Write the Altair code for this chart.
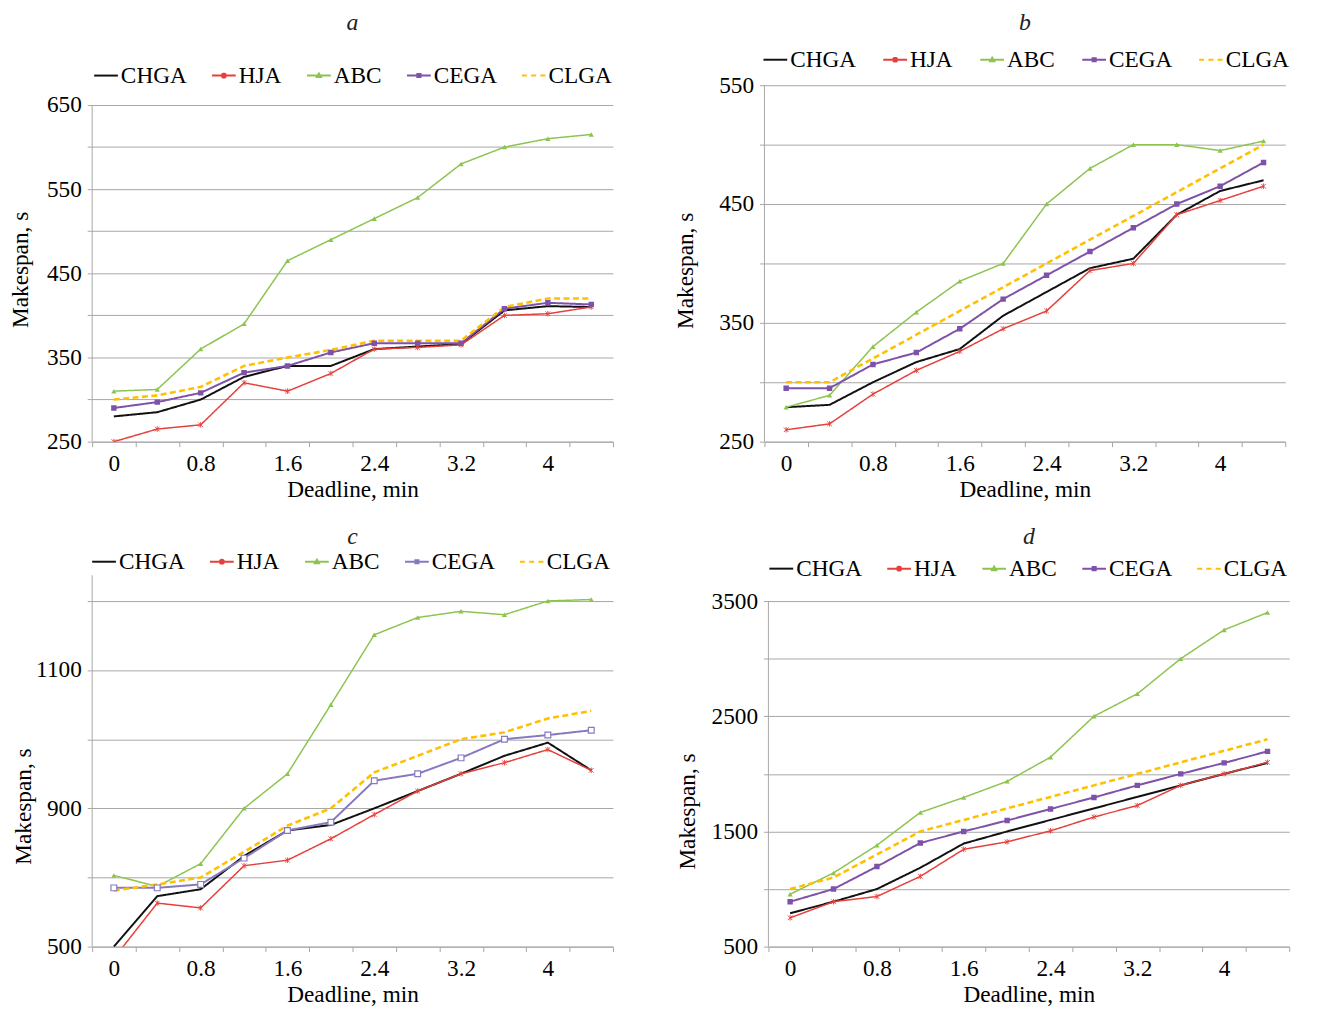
import altair as alt
import pandas as pd

# ---------------- data ----------------
X_VALUES = [0, 0.4, 0.8, 1.2, 1.6, 2.0, 2.4, 2.8, 3.2, 3.6, 4.0, 4.4]
X_LABELED = [0, 0.8, 1.6, 2.4, 3.2, 4.0]
X_TICK_LABELS = ["0", "0.8", "1.6", "2.4", "3.2", "4"]
SERIES = ["CHGA", "HJA", "ABC", "CEGA", "CLGA"]

# panel a
A_CHGA = [280, 285, 300, 327, 340, 340, 360, 363, 366, 406, 411, 410]
A_HJA = [250, 265, 270, 320, 310, 331, 360, 362, 365, 400, 402, 410]
A_ABC = [310, 312, 360, 390, 465, 490, 515, 540, 580, 600, 610, 615]
A_CEGA = [290, 297, 308, 332, 340, 356, 367, 367, 367, 408, 415, 413]
A_CLGA = [300, 305, 315, 340, 350, 359, 370, 370, 370, 410, 420, 420]
A_Y_GRID = [250, 300, 350, 400, 450, 500, 550, 600, 650]
A_Y_LABEL_AT = [250, 350, 450, 550, 650]
A_Y_LABELS = ["250", "350", "450", "550", "650"]

# panel b
B_CHGA = [279, 281, 300, 317, 328, 356, 376, 396, 404, 441, 461, 470]
B_HJA = [260, 265, 290, 310, 326, 345, 360, 394, 400, 441, 453, 465]
B_ABC = [279, 289, 330, 359, 385, 400, 450, 480, 500, 500, 495, 503]
B_CEGA = [295, 295, 315, 325, 345, 370, 390, 410, 430, 450, 465, 485]
B_CLGA = [300, 300, 320, 340, 360, 380, 400, 420, 440, 460, 480, 500]
B_Y_GRID = [250, 300, 350, 400, 450, 500, 550]
B_Y_LABEL_AT = [250, 350, 450, 550]
B_Y_LABELS = ["250", "350", "450", "550"]

# panel c (gridlines every 100; the bottom gridline is labelled "500" in the source)
C_CHGA = [700, 773, 783, 831, 868, 876, 900, 925, 950, 976, 995, 955]
C_HJA = [683, 763, 756, 817, 825, 856, 891, 925, 950, 966, 985, 955]
C_ABC = [803, 787, 820, 900, 950, 1050, 1151, 1176, 1185, 1180, 1200, 1202]
C_CEGA = [785, 785, 790, 828, 868, 880, 940, 950, 973, 1000, 1006, 1013]
C_CLGA = [781, 790, 800, 837, 875, 900, 952, 976, 1000, 1010, 1030, 1041]
C_Y_GRID = [700, 800, 900, 1000, 1100, 1200]
C_Y_LABEL_AT = [700, 900, 1100]
C_Y_LABELS = ["500", "900", "1100"]

# panel d
D_CHGA = [790, 890, 1000, 1185, 1395, 1500, 1600, 1700, 1800, 1900, 2000, 2095]
D_HJA = [750, 890, 935, 1110, 1345, 1410, 1505, 1625, 1725, 1900, 2000, 2100]
D_ABC = [955, 1140, 1380, 1665, 1795, 1935, 2145, 2500, 2695, 3000, 3250, 3400]
D_CEGA = [890, 1000, 1195, 1400, 1500, 1595, 1695, 1795, 1900, 2000, 2095, 2195]
D_CLGA = [1000, 1100, 1300, 1500, 1600, 1700, 1800, 1900, 2000, 2100, 2200, 2300]
D_Y_GRID = [500, 1000, 1500, 2000, 2500, 3000, 3500]
D_Y_LABEL_AT = [500, 1500, 2500, 3500]
D_Y_LABELS = ["500", "1500", "2500", "3500"]

# ---------------- style ----------------
FONT = "Liberation Serif"
FS = 23.5
GRAY = "#a6a6a6"
PLOT_W = 526
STEP = 0.4

LINE_COLOR = {"CHGA": "#111111", "HJA": "#e5403c", "ABC": "#8dc450",
              "CEGA": "#7e52a8", "CLGA": "#ffc000"}
LINE_WIDTH = {"CHGA": 2, "HJA": 1.5, "ABC": 1.5, "CEGA": 2, "CLGA": 2.6}
LINE_DASH = {"CHGA": [1, 0], "HJA": [1, 0], "ABC": [1, 0], "CEGA": [1, 0], "CLGA": [6, 3.5]}

ASTERISK = "M-1,-1L1,1M-1,1L1,-1M0,-1.2V1.2"
LEGEND_PATHS = {
    "CHGA": "M-1,0H1",
    "HJA": "M-1,0H1M-0.18,-0.18L0.18,0.18M-0.18,0.18L0.18,-0.18M0,-0.24V0.24",
    "ABC": "M-1,0H1M0,-0.17L0.17,0.13H-0.17Z",
    "CEGA": "M-1,0H1M-0.13,-0.13H0.13V0.13H-0.13Z",
    "CLGA": "M-1,0H-0.58M-0.22,0H0.2M0.56,0H0.98",
}


def lookup_expr(keys, texts, key_expr):
    k = "[" + ",".join(str(v) for v in keys) + "]"
    t = "[" + ",".join("'" + s + "'" for s in texts) + "]"
    return f"indexof({k}, {key_expr}) >= 0 ? {t}[indexof({k}, {key_expr})] : ''"


def panel(letter, vals, y_domain, y_grid, y_lab_at, y_labs, axis_top, height,
          legend_x, legend_y, legend_pad, title_offset, ytitle_y, ytitle_pad,
          cega_color, cega_hollow):
    rows = []
    for s, arr in zip(SERIES, vals):
        for x, v in zip(X_VALUES, arr):
            rows.append({"x": x, "value": v, "series": s})
    df = pd.DataFrame(rows)
    base = alt.Chart(df)

    bounds = [round(x - STEP / 2, 1) for x in X_VALUES] + [round(X_VALUES[-1] + STEP / 2, 1)]
    x_keys = [int(round(v * 10)) for v in X_LABELED]
    xenc = alt.X(
        "x:Q",
        scale=alt.Scale(domain=[bounds[0], bounds[-1]], nice=False, zero=False),
        axis=alt.Axis(
            values=bounds,
            labelExpr=lookup_expr(x_keys, X_TICK_LABELS, "round((datum.value + 0.2) * 10)"),
            labelOffset=PLOT_W / len(X_VALUES) / 2,
            labelFlush=False, labelOverlap=False, labelPadding=5,
            grid=False, tickSize=5, title="Deadline, min", titlePadding=3,
        ),
    )
    yenc = alt.Y(
        "value:Q",
        scale=alt.Scale(domain=y_domain, nice=False, zero=False),
        axis=alt.Axis(
            values=y_grid,
            labelExpr=lookup_expr(y_lab_at, y_labs, "datum.value"),
            labelOverlap=False, labelFlush=False, labelPadding=6,
            grid=True, domain=False, tickSize=5,
            title="Makespan, s", titleY=ytitle_y, titlePadding=ytitle_pad,
        ),
    )

    layers = []
    # y axis line
    axis_df = pd.DataFrame({"lo": [y_grid[0]], "hi": [axis_top]})
    layers.append(
        alt.Chart(axis_df).mark_rule(color=GRAY, strokeWidth=1).encode(
            x=alt.value(0), y=alt.Y("lo:Q", scale=alt.Scale(domain=y_domain, nice=False, zero=False)),
            y2="hi:Q")
    )
    for s in SERIES:
        color = cega_color if s == "CEGA" else LINE_COLOR[s]
        layers.append(
            base.transform_filter(alt.datum.series == s)
            .mark_line(color=color, strokeWidth=LINE_WIDTH[s], strokeDash=LINE_DASH[s], clip=True)
            .encode(x=xenc, y=yenc)
        )
    # markers
    layers.append(
        base.transform_filter(alt.datum.series == "HJA")
        .mark_point(shape=ASTERISK, size=22, filled=False, stroke=LINE_COLOR["HJA"],
                    strokeWidth=0.9, opacity=1, clip=True)
        .encode(x=xenc, y=yenc)
    )
    layers.append(
        base.transform_filter(alt.datum.series == "ABC")
        .mark_point(shape="triangle-up", size=28, filled=True, color=LINE_COLOR["ABC"],
                    opacity=1, clip=True)
        .encode(x=xenc, y=yenc)
    )
    if cega_hollow:
        cega_mark = dict(shape="square", size=34, filled=False, fill="white",
                         stroke=cega_color, strokeWidth=1.2, opacity=1, clip=True)
    else:
        cega_mark = dict(shape="square", size=30, filled=True, color=cega_color,
                         opacity=1, clip=True)
    layers.append(
        base.transform_filter(alt.datum.series == "CEGA").mark_point(**cega_mark)
        .encode(x=xenc, y=yenc)
    )

    # legend
    leg_colors = [cega_color if s == "CEGA" else LINE_COLOR[s] for s in SERIES]
    leg_props = dict(
        orient="none", legendX=legend_x, legendY=legend_y, direction="horizontal",
        columns=5, title=None, labelFont=FONT, labelFontSize=FS, labelColor="black",
        symbolSize=576, symbolStrokeWidth=2, columnPadding=legend_pad, labelOffset=2,
        symbolOpacity=1, padding=0, labelLimit=0,
    )
    layers.append(
        base.transform_filter("false")
        .mark_point(filled=False, opacity=1, strokeWidth=2)
        .encode(
            color=alt.Color("series:N", scale=alt.Scale(domain=SERIES, range=leg_colors),
                            legend=alt.Legend(**leg_props)),
            shape=alt.Shape("series:N",
                            scale=alt.Scale(domain=SERIES, range=[LEGEND_PATHS[s] for s in SERIES]),
                            legend=alt.Legend(**leg_props)),
        )
    )

    return alt.layer(*layers).properties(
        width=PLOT_W, height=height,
        title=alt.TitleParams(letter, font=FONT, fontSize=24, fontStyle="italic",
                              fontWeight="normal", anchor="middle", offset=title_offset,
                              color="#222222"),
    )


pa = panel("a", [A_CHGA, A_HJA, A_ABC, A_CEGA, A_CLGA], [250, 673.5], A_Y_GRID,
           A_Y_LABEL_AT, A_Y_LABELS, 650, 360, 1, -23, 21, 28, 186, 14, LINE_COLOR["CEGA"], False)
pb = panel("b", [B_CHGA, B_HJA, B_ABC, B_CEGA, B_CLGA], [250, 550], B_Y_GRID,
           B_Y_LABEL_AT, B_Y_LABELS, 550, 360, -2, -39, 23, 12, 187, 21.5, LINE_COLOR["CEGA"], False)
pc = panel("c", [C_CHGA, C_HJA, C_ABC, C_CEGA, C_CLGA], [700, 1237], C_Y_GRID,
           C_Y_LABEL_AT, C_Y_LABELS, 1237, 375, -1, -27, 21, 0, 233, 0, "#8878c0", True)
pd_ = panel("d", [D_CHGA, D_HJA, D_ABC, D_CEGA, D_CLGA], [500, 3723.5], D_Y_GRID,
            D_Y_LABEL_AT, D_Y_LABELS, 3500, 375, 0, -20, 21, 7, 238, 11.5, LINE_COLOR["CEGA"], False)


def indep(ch):
    return ch.resolve_scale(color="independent", shape="independent").resolve_legend(
        color="independent", shape="independent")


chart = (
    indep(alt.vconcat(
        indep(alt.hconcat(pa, pb, spacing=39)),
        indep(alt.hconcat(pc, pd_, spacing=41)),
        spacing=24,
    ))
    .properties(padding={"left": 0, "top": -2, "right": 0, "bottom": -2})
    .configure_view(stroke=None)
    .configure_axis(
        labelFont=FONT, labelFontSize=FS, labelColor="black",
        titleFont=FONT, titleFontSize=FS, titleFontWeight="normal", titleColor="black",
        domainColor=GRAY, tickColor=GRAY, gridColor=GRAY, gridWidth=1, domainWidth=1,
    )
)

chart.save("out.html", embed_options={"renderer": "svg", "actions": False})
